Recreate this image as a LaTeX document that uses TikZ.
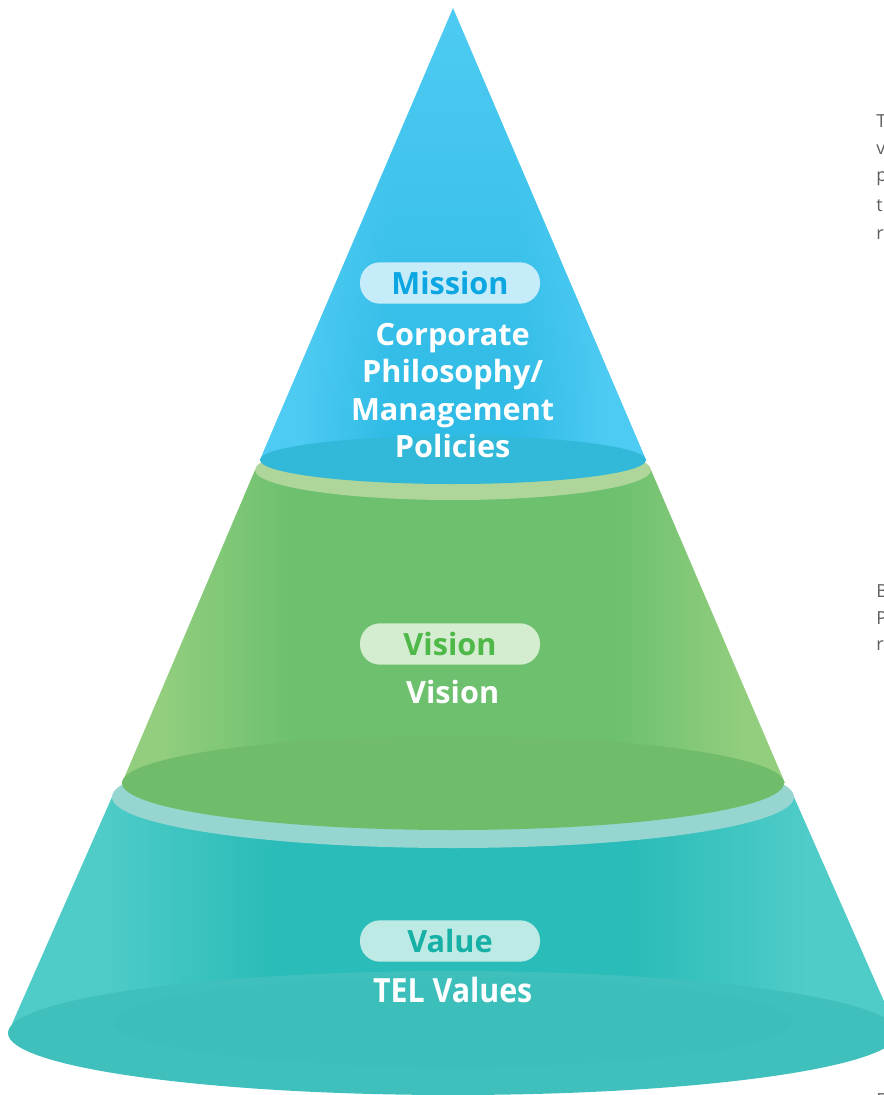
\documentclass[tikz,border=0pt]{standalone}
\usepackage{fontspec}
\setmainfont{Open Sans}
\newfontfamily\condfont[FakeStretch=0.91]{Open Sans}
\usepackage{tikz}
\usetikzlibrary{positioning, fadings}
\definecolor{blueedge}{RGB}{78, 203, 243}
\definecolor{bluemid}{RGB}{44, 186, 228}
\definecolor{bluebase}{RGB}{50, 184, 216}
\definecolor{bluepill}{RGB}{198, 236, 249}
\definecolor{bluetext}{RGB}{12, 166, 226}
\definecolor{greenedge}{RGB}{146, 206, 126}
\definecolor{greenmid}{RGB}{108, 192, 110}
\definecolor{greenbase}{RGB}{112, 188, 106}
\definecolor{greenrim}{RGB}{174, 214, 154}
\definecolor{greenpill}{RGB}{212, 236, 208}
\definecolor{greentext}{RGB}{78, 184, 72}
\definecolor{tealedge}{RGB}{80, 204, 200}
\definecolor{tealmid}{RGB}{42, 188, 184}
\definecolor{tealbase}{RGB}{64, 192, 188}
\definecolor{tealrim}{RGB}{150, 213, 208}
\definecolor{tealpill}{RGB}{190, 234, 230}
\definecolor{tealtext}{RGB}{22, 176, 166}
\definecolor{pagetext}{RGB}{95, 95, 95}
\pgfdeclarehorizontalshading{blueside}{100bp}{color(0bp)=(blueedge); color(30bp)=(blueedge); color(42bp)=(bluemid); color(58bp)=(bluemid); color(70bp)=(blueedge); color(100bp)=(blueedge)}
\pgfdeclarehorizontalshading{greenside}{100bp}{color(0bp)=(greenedge); color(28bp)=(greenedge); color(38bp)=(greenmid); color(62bp)=(greenmid); color(72bp)=(greenedge); color(100bp)=(greenedge)}
\pgfdeclarehorizontalshading{tealside}{100bp}{color(0bp)=(tealedge); color(30bp)=(tealedge); color(40bp)=(tealmid); color(60bp)=(tealmid); color(70bp)=(tealedge); color(100bp)=(tealedge)}

\begin{document}
\begin{tikzpicture}[x=0.75pt, y=-0.75pt,
    pill/.style={rounded corners=15pt, minimum width=135pt, minimum height=31pt,
        inner sep=0pt, font=\fontsize{23}{28}\selectfont\bfseries},
    tiertext/.style={text=white, align=center, xshift=2pt, font=\fontsize{23}{28}\selectfont\bfseries},
    edgetext/.style={anchor=west, inner sep=0pt, text=pagetext, font=\fontsize{13.5}{16}\selectfont}]
    \useasboundingbox (0, 0) rectangle (884, 1095);
    \clip (0, 0) rectangle (884, 1095);

    % Value tier (bottom)
    \shade[shading=tealside] (112, 797) -- (8, 1033) -- (898, 1033) -- (794, 797) -- cycle;
    \fill[tealbase] (453, 1033) ellipse [x radius=445, y radius=62];
    \fill[tealmid, opacity=0.15] (453, 1022) ellipse [x radius=340, y radius=45];
    \fill[tealrim] (453, 797) ellipse [x radius=341, y radius=51];

    % Vision tier (middle)
    \shade[shading=greenside] (255, 470) -- (122, 783) -- (785, 783) -- (651, 470) -- cycle;
    \fill[greenbase] (453, 783) ellipse [x radius=331, y radius=47];
    \fill[greenrim] (453, 470) ellipse [x radius=198, y radius=30];

    % Mission tier (top)
    \fill[blueedge] (453, 8) -- (260, 460) -- (646, 460) -- cycle;
    \shade[shading=blueside, path fading=north] (453, 8) -- (260, 460) -- (646, 460) -- cycle;
    \fill[bluebase] (453, 460) ellipse [x radius=193, y radius=24];

    % Labels
    \node[pill, fill=bluepill, text=bluetext] (mission) at (450, 283) {Mission};
    \node[tiertext, below=11pt of mission] (philosophy) {Corporate\\Philosophy/\\Management\\Policies};

    \node[pill, fill=greenpill, text=greentext] (vision) at (450, 644) {Vision};
    \node[tiertext, below=8pt of vision] (visiontext) {Vision};

    \node[pill, fill=tealpill, text=tealtext] (value) at (450, 941) {Value};
    \node[tiertext, font=\fontsize{25}{28}\condfont\bfseries, below=8pt of value] (values) {TEL Values};

    % Text cut off at the right edge
    \foreach \y/\ch [count=\i] in {121/T, 150/v, 179/p, 206/t, 235/r, 591/B, 618/P, 646/r, 1100/F} {
        \node[edgetext] (edge\i) at (876, \y) {\ch};
    }
\end{tikzpicture}
\end{document}
